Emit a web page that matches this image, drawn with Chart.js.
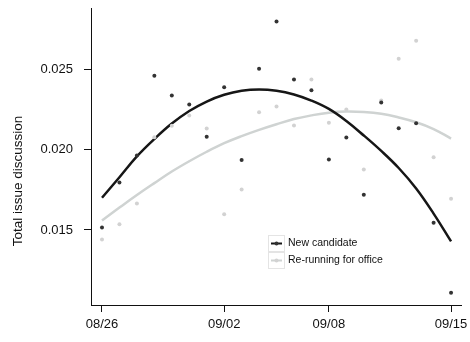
<!DOCTYPE html>
<html>
<head>
<meta charset="utf-8">
<script src="https://cdn.jsdelivr.net/npm/chart.js@4.4.1/dist/chart.umd.min.js"></script>
<style>
  html, body { margin: 0; padding: 0; background: #fff; }
  #wrap { width: 470px; height: 342px; position: relative; }
</style>
</head>
<body>
<div id="wrap"><canvas id="chart"></canvas></div>
<script>
// one entry per day, 08/26 .. 09/15
const days = ['08/26','08/27','08/28','08/29','08/30','08/31','09/01','09/02','09/03','09/04','09/05',
              '09/06','09/07','09/08','09/09','09/10','09/11','09/12','09/13','09/14','09/15'];
const tickLabels = ['08/26', '09/02', '09/08', '09/15'];
const yTicks = [0.015, 0.020, 0.025];
const yTitle = 'Total issue discussion';

const seriesNames = ['New candidate', 'Re-running for office'];

// daily observations
const newCandidate = [0.01516, 0.01795, 0.01963, 0.02458, 0.02335, 0.02280, 0.02079, 0.02387, 0.01935, 0.02501, 0.02795,
                      0.02435, 0.02368, 0.01938, 0.02075, 0.01719, 0.02292, 0.02132, 0.02163, 0.01545, 0.01110];
const rerunning = [0.01441, 0.01536, 0.01665, 0.02076, 0.02147, 0.02211, 0.02130, 0.01598, 0.01752, 0.02232, 0.02267,
                   0.02149, 0.02435, 0.02166, 0.02248, 0.01876, 0.02304, 0.02563, 0.02675, 0.01952, 0.01694];

// smoothed trend
const newCandidateFit = [0.01700, 0.01828, 0.01957, 0.02065, 0.02161, 0.02239, 0.02298, 0.02340, 0.02365, 0.02373, 0.02365,
                         0.02342, 0.02304, 0.02252, 0.02177, 0.02087, 0.01991, 0.01885, 0.01758, 0.01602, 0.01429];
const rerunningFit = [0.01559, 0.01639, 0.01717, 0.01791, 0.01863, 0.01927, 0.01986, 0.02039, 0.02083, 0.02122, 0.02157,
                      0.02189, 0.02212, 0.02229, 0.02236, 0.02233, 0.02222, 0.02199, 0.02169, 0.02127, 0.02068];

const darkLine = '#161616', lightLine = '#cfd3d2';
const darkDot = '#333333', lightDot = '#d2d2d2';
const FONT = '"Liberation Sans", Arial, sans-serif';

const pts = arr => arr.map((v, i) => ({x: i, y: v}));

// legend drawn inside the plot, R style, plus the y title (sits lower than centre in the original)
const legendPlugin = {
  id: 'rlegend',
  afterDatasetsDraw(chart) {
    const ctx = chart.ctx;
    const items = [[darkLine, darkDot], [lightLine, lightDot]];
    const x0 = 268, y0 = 235, h = 17;
    ctx.save();
    items.forEach((c, i) => {
      const y = y0 + i * h;
      ctx.strokeStyle = '#e4e4e4';
      ctx.lineWidth = 1;
      ctx.strokeRect(x0 + 0.5, y + 0.5, 16, h - 1);
      ctx.strokeStyle = c[0];
      ctx.lineWidth = 2;
      ctx.beginPath();
      ctx.moveTo(x0 + 3, y + h / 2);
      ctx.lineTo(x0 + 14, y + h / 2);
      ctx.stroke();
      ctx.fillStyle = c[1];
      ctx.beginPath();
      ctx.arc(x0 + 8.5, y + h / 2, 2, 0, Math.PI * 2);
      ctx.fill();
      ctx.fillStyle = '#111';
      ctx.font = '10.5px ' + FONT;
      ctx.textBaseline = 'middle';
      ctx.fillText(seriesNames[i], x0 + 20, y + h / 2);
    });
    ctx.translate(18, 181);
    ctx.rotate(-Math.PI / 2);
    ctx.font = '13.5px ' + FONT;
    ctx.textAlign = 'center';
    ctx.fillText(yTitle, 0, 0);
    ctx.restore();
  }
};

new Chart(document.getElementById('chart'), {
  type: 'line',
  data: {
    datasets: [
      {label: seriesNames[0], data: pts(newCandidate), showLine: false, pointRadius: 2,
       pointBackgroundColor: darkDot, pointBorderWidth: 0, order: 0},
      {label: seriesNames[1], data: pts(rerunning), showLine: false, pointRadius: 2,
       pointBackgroundColor: lightDot, pointBorderWidth: 0, order: 1},
      {label: seriesNames[0] + ' fit', data: pts(newCandidateFit), borderColor: darkLine, borderWidth: 2.5,
       pointRadius: 0, tension: 0.4, order: 2},
      {label: seriesNames[1] + ' fit', data: pts(rerunningFit), borderColor: lightLine, borderWidth: 2.5,
       pointRadius: 0, tension: 0.4, order: 3}
    ]
  },
  options: {
    responsive: true,
    maintainAspectRatio: false,
    animation: false,
    layout: {padding: {left: 0, top: 8, right: 9, bottom: 0}},
    plugins: {legend: {display: false}, tooltip: {enabled: false}},
    scales: {
      x: {
        type: 'linear',
        min: -0.63, max: 20.57,
        afterFit: s => { s.height = 37; s.paddingLeft = 0; s.paddingRight = 0; },
        afterBuildTicks: s => { s.ticks = tickLabels.map(t => ({value: days.indexOf(t)})); },
        ticks: {
          callback: v => days[v],
          color: '#111', padding: 5, maxRotation: 0, autoSkip: false,
          font: {family: FONT, size: 13}
        },
        grid: {drawOnChartArea: false, drawTicks: true, tickLength: 7, color: '#111'},
        border: {display: true, color: '#111', width: 1}
      },
      y: {
        type: 'linear',
        min: 0.01034, max: 0.02879,
        afterFit: s => { s.width = 91; s.paddingTop = 0; s.paddingBottom = 0; },
        afterBuildTicks: s => { s.ticks = yTicks.map(v => ({value: v})); },
        ticks: {
          callback: v => v.toFixed(3),
          color: '#111', padding: 11,
          font: {family: FONT, size: 13}
        },
        grid: {drawOnChartArea: false, drawTicks: true, tickLength: 7, color: '#111'},
        border: {display: true, color: '#111', width: 1}
      }
    }
  },
  plugins: [legendPlugin]
});
</script>
</body>
</html>
